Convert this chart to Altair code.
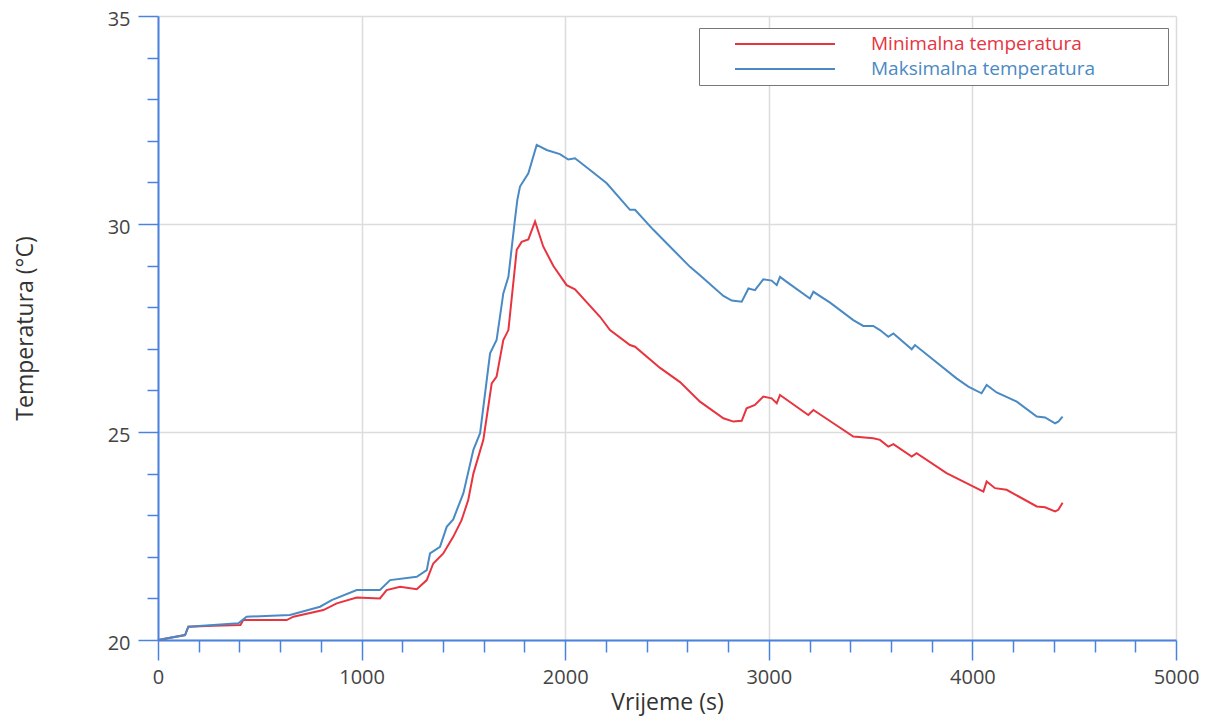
import altair as alt
import pandas as pd

# Time (s) and temperature (°C)
t_min = [0, 133, 149, 272, 405, 419, 632, 665, 812, 878, 976, 1090, 1123, 1189, 1271,
         1320, 1352, 1401, 1450, 1491, 1524, 1549, 1598, 1639, 1663, 1696, 1721, 1762,
         1786, 1819, 1852, 1892, 1942, 2007, 2048, 2171, 2220, 2318, 2343, 2466, 2564,
         2662, 2777, 2826, 2867, 2891, 2932, 2973, 3014, 3039, 3055, 3194, 3219, 3317,
         3415, 3513, 3546, 3587, 3612, 3702, 3726, 3873, 4037, 4054, 4070, 4111, 4168,
         4316, 4357, 4406, 4422, 4443]
v_min = [20.0, 20.12, 20.32, 20.34, 20.36, 20.48, 20.48, 20.56, 20.72, 20.88, 21.02, 21.0,
         21.2, 21.28, 21.22, 21.44, 21.84, 22.08, 22.48, 22.88, 23.37, 24.0, 24.81, 26.17,
         26.33, 27.21, 27.45, 29.38, 29.57, 29.63, 30.06, 29.46, 28.99, 28.53, 28.43, 27.77,
         27.45, 27.09, 27.05, 26.54, 26.2, 25.73, 25.33, 25.25, 25.27, 25.57, 25.65, 25.85,
         25.81, 25.69, 25.89, 25.41, 25.53, 25.21, 24.89, 24.85, 24.81, 24.65, 24.71, 24.41,
         24.49, 24.01, 23.61, 23.57, 23.81, 23.65, 23.61, 23.21, 23.19, 23.09, 23.13, 23.30]

t_max = [0, 133, 149, 272, 395, 435, 648, 796, 853, 976, 1090, 1140, 1271, 1320, 1336,
         1385, 1418, 1450, 1500, 1549, 1582, 1631, 1663, 1696, 1721, 1753, 1765, 1778, 1819,
         1860, 1909, 1974, 2015, 2048, 2122, 2204, 2318, 2343, 2433, 2613, 2662, 2777, 2818,
         2867, 2900, 2932, 2973, 3014, 3039, 3055, 3088, 3202, 3219, 3301, 3415, 3464, 3513,
         3546, 3587, 3612, 3702, 3718, 3922, 3980, 4045, 4070, 4119, 4218, 4316, 4357, 4406,
         4422, 4443]
v_max = [20.0, 20.12, 20.32, 20.36, 20.40, 20.56, 20.60, 20.80, 20.96, 21.20, 21.20, 21.44,
         21.52, 21.68, 22.08, 22.24, 22.72, 22.90, 23.53, 24.57, 24.97, 26.89, 27.21, 28.33,
         28.73, 30.10, 30.58, 30.90, 31.22, 31.90, 31.78, 31.68, 31.55, 31.58, 31.30, 30.98,
         30.34, 30.34, 29.86, 28.97, 28.77, 28.27, 28.16, 28.13, 28.45, 28.41, 28.67, 28.64,
         28.53, 28.73, 28.61, 28.21, 28.37, 28.11, 27.69, 27.55, 27.55, 27.45, 27.29, 27.37,
         26.99, 27.09, 26.29, 26.09, 25.93, 26.13, 25.95, 25.73, 25.37, 25.35, 25.21, 25.25,
         25.37]

series = ["Minimalna temperatura", "Maksimalna temperatura"]
colors = ["#e8343f", "#4a8ac4"]

x_ticks = list(range(0, 5001, 200))
y_ticks = list(range(20, 36, 1))

df = pd.concat([
    pd.DataFrame({"t": t_min, "T": v_min, "s": series[0], "o": range(len(t_min))}),
    pd.DataFrame({"t": t_max, "T": v_max, "s": series[1], "o": range(len(t_max))}),
])

axis_blue = "#4a82e2"
font = "Open Sans"

x_axis = alt.Axis(
    title="Vrijeme (s)", values=x_ticks, format="d",
    labelExpr="datum.value % 1000 === 0 ? datum.label : ''",
    tickSize={"condition": {"test": "datum.value % 1000 === 0", "value": 20}, "value": 12},
    gridOpacity={"condition": {"test": "datum.value % 1000 === 0", "value": 1}, "value": 0},
    labelOverlap=False, labelFlush=False, labelPadding=7, titlePadding=4,
)
y_axis = alt.Axis(
    title="Temperatura (°C)", values=y_ticks, format="d",
    labelExpr="datum.value % 5 === 0 ? datum.label : ''",
    tickSize={"condition": {"test": "datum.value % 5 === 0", "value": 20}, "value": 11},
    gridOpacity={"condition": {"test": "datum.value % 5 === 0", "value": 1}, "value": 0},
    labelOverlap=False, labelFlush=False, labelPadding=8, labelOffset=3, titlePadding=70,
)

# trailing spaces closed by a zero-width char so that the legend box widens
pad = "\u2003\u2003\u2003\u2002\u200b"
legend = alt.Legend(
    title=None, orient="none", legendX=541, legendY=12,
    symbolType="stroke", symbolSize=10000, symbolStrokeWidth=2, symbolOffset=29,
    labelOffset=35, labelFontSize=19, labelFont=font, labelLimit=500,
    labelExpr="datum.label + '" + pad + "'",
    labelColor={"expr": "datum.value == '" + series[0] + "' ? '" + colors[0] + "' : '" + colors[1] + "'"},
    padding=6, rowPadding=5, clipHeight=20,
    strokeColor="#777777", fillColor="#ffffff",
)

chart = alt.Chart(df).mark_line(strokeWidth=2).encode(
    x=alt.X("t:Q", scale=alt.Scale(domain=[0, 5000], nice=False), axis=x_axis),
    y=alt.Y("T:Q", scale=alt.Scale(domain=[20, 35], nice=False, zero=False), axis=y_axis),
    color=alt.Color("s:N", scale=alt.Scale(domain=series, range=colors), legend=legend),
    order="o:Q",
).properties(
    width=1018, height=624,
    autosize=alt.AutoSizeParams(type="none"),
    padding={"left": 150, "top": 8, "right": 30, "bottom": 76},
    background="white",
).configure_view(stroke=None).configure_axis(
    domainColor=axis_blue, domainWidth=2, tickColor=axis_blue, tickWidth=1.5,
    gridColor="#dcdcdc", gridWidth=1.5,
    labelFont=font, labelFontSize=20, labelColor="#444444",
    titleFont=font, titleFontSize=23, titleFontWeight="normal", titleColor="#333333",
)

chart.save("out.html", embed_options={"renderer": "svg", "actions": False})
